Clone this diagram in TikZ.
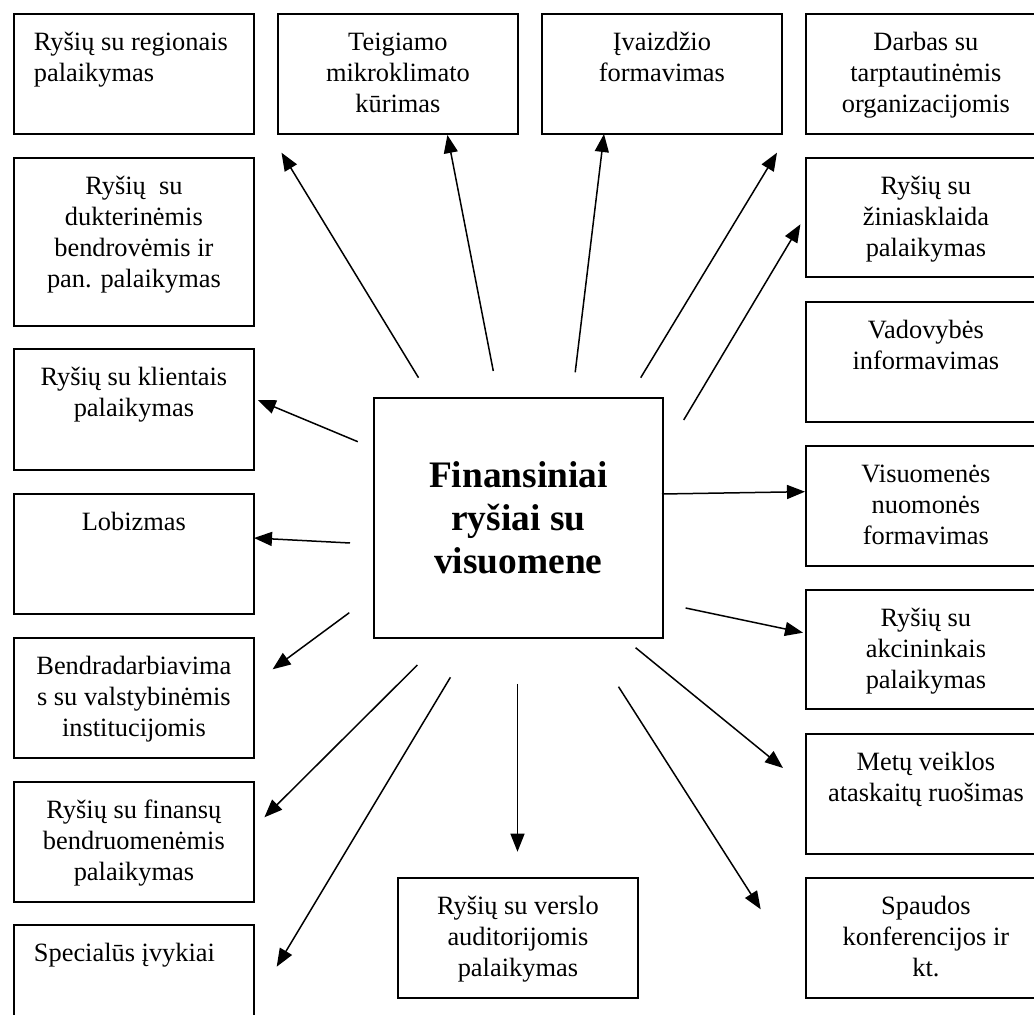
\documentclass[tikz,border=0pt]{standalone}
\usepackage{fontspec}
\setmainfont{Liberation Serif}
\usetikzlibrary{arrows.meta}
\newcommand{\bxtext}[3]{\begin{minipage}[t][#1][t]{120pt}#2\rule{0pt}{18.5pt}#3\end{minipage}}
\newcommand{\ctr}{\centering}
\newcommand{\lft}{\raggedright\leftskip=10pt\relax}
\tikzset{
  box/.style={draw, line width=0.9pt, inner sep=0pt, anchor=north west,
              font=\fontsize{13.2}{15.4}\selectfont},
  arr/.style={line width=0.75pt, -{Triangle[length=9pt,width=7pt]}},
}
\begin{document}
\begin{tikzpicture}[x=0.5pt,y=-0.5pt]
\useasboundingbox (0,0) rectangle (1034,1015);
\clip (0,0) rectangle (1034,1015);
\fill[white] (0,0) rectangle (1034,1015);

% centre
\node[draw, line width=0.9pt, inner sep=0pt, anchor=north west,
      minimum width=144.5pt, minimum height=120pt, align=center,
      font=\fontsize{18.7}{21.5}\selectfont\bfseries] (c) at (373,397)
      {Finansiniai\\ryšiai su\\visuomene};

% top row
\node[box] (t1) at (13,13)  {\bxtext{60pt}{\lft}{Ryšių su regionais\\palaikymas}};
\node[box] (t2) at (277,13) {\bxtext{60pt}{\ctr}{Teigiamo\\mikroklimato\\kūrimas}};
\node[box] (t3) at (541,13) {\bxtext{60pt}{\ctr}{Įvaizdžio\\formavimas}};
\node[box] (t4) at (805,13) {\bxtext{60pt}{\ctr}{Darbas su\\tarptautinėmis\\organizacijomis}};

% left column
\node[box] (l2) at (13,157) {\bxtext{84pt}{\ctr}{Ryšių\ \ su\\dukterinėmis\\bendrovėmis ir\\pan. palaikymas}};
\node[box] (l3) at (13,348) {\bxtext{60.5pt}{\ctr}{Ryšių su klientais\\palaikymas}};
\node[box] (l4) at (13,493) {\bxtext{60pt}{\ctr}{Lobizmas}};
\node[box] (l5) at (13,637) {\bxtext{60pt}{\ctr}{Bendradarbiavima\\s su valstybinėmis\\institucijomis}};
\node[box] (l6) at (13,781) {\bxtext{60pt}{\ctr}{Ryšių su finansų\\bendruomenėmis\\palaikymas}};
\node[box] (l7) at (13,924) {\bxtext{60pt}{\lft}{Specialūs įvykiai}};

% right column
\node[box] (r2) at (805,157) {\bxtext{59.5pt}{\ctr}{Ryšių su\\žiniasklaida\\palaikymas}};
\node[box] (r3) at (805,301) {\bxtext{60pt}{\ctr}{Vadovybės\\informavimas}};
\node[box] (r4) at (805,445) {\bxtext{60pt}{\ctr}{Visuomenės\\nuomonės\\formavimas}};
\node[box] (r5) at (805,589) {\bxtext{59.5pt}{\ctr}{Ryšių su\\akcininkais\\palaikymas}};
\node[box] (r6) at (805,733) {\bxtext{60pt}{\ctr}{Metų veiklos\\ataskaitų ruošimas}};
\node[box] (r7) at (805,877) {\bxtext{60pt}{\ctr}{Spaudos\\konferencijos ir\\kt.}};

% bottom
\node[box] (bm) at (397,877) {\bxtext{60pt}{\ctr}{Ryšių su verslo\\auditorijomis\\palaikymas}};

% arrow end points
\coordinate (s1) at (418.5,377.7);  \coordinate (e1) at (281.5,152.7);
\coordinate (s2) at (493.3,371);    \coordinate (e2) at (447.4,135);
\coordinate (s3) at (575.2,372.3);  \coordinate (e3) at (604,134);
\coordinate (s4) at (640.7,377.7);  \coordinate (e4) at (777,152.7);
\coordinate (s5) at (683.7,420);    \coordinate (e5) at (800.4,224.3);
\coordinate (s6) at (357.8,441.7);  \coordinate (e6) at (257.8,400);
\coordinate (s7) at (350,543);      \coordinate (e7) at (254,538);
\coordinate (s8) at (662,494);      \coordinate (e8) at (805,491.7);
\coordinate (s9) at (685.6,608);    \coordinate (e9) at (803,632.7);
\coordinate (s10) at (349.3,612.7); \coordinate (e10) at (272.6,669.3);
\coordinate (s11) at (417.4,665);   \coordinate (e11) at (264.4,817.3);
\coordinate (s12) at (450.4,677.3); \coordinate (e12) at (276.7,966.7);
\coordinate (s13) at (517.5,684);   \coordinate (e13) at (517.5,851.7);
\coordinate (s14) at (618.5,686.7); \coordinate (e14) at (760.7,909.3);
\coordinate (s15) at (635.6,647.7); \coordinate (e15) at (783,768);

\foreach \i in {1,...,15} {\draw[arr] (s\i) -- (e\i);}
\end{tikzpicture}
\end{document}
